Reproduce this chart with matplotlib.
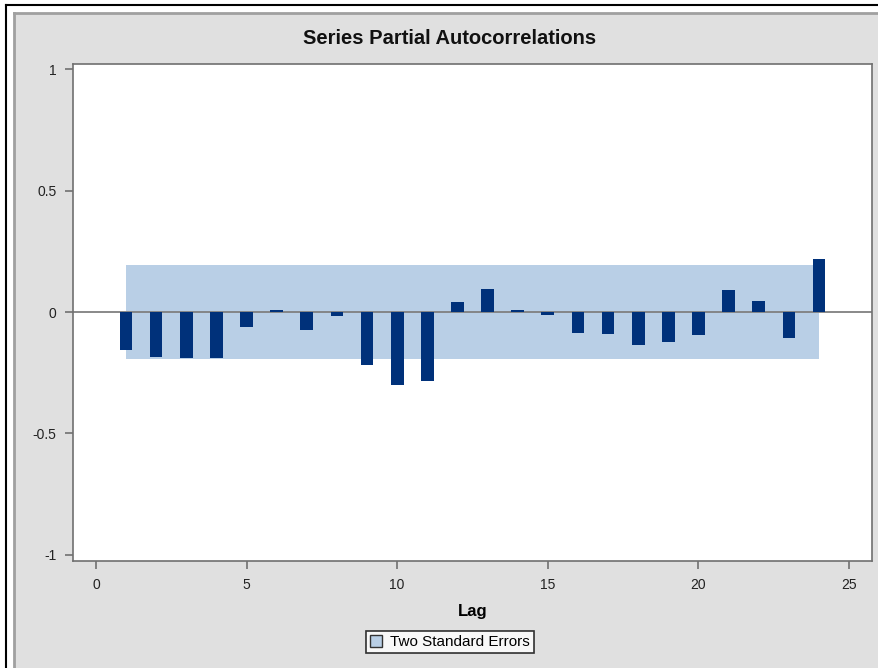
import matplotlib
matplotlib.use("Agg")
import matplotlib.pyplot as plt
from matplotlib.patches import Rectangle, Patch
from matplotlib.lines import Line2D

lags = list(range(1, 25))
pacf = [-0.155, -0.185, -0.19, -0.19, -0.062, 0.008, -0.073, -0.015,
        -0.217, -0.30, -0.283, 0.042, 0.096, 0.01, -0.012, -0.085,
        -0.09, -0.134, -0.125, -0.096, 0.09, 0.046, -0.107, 0.22]
two_se = 0.193
xticks = [0, 5, 10, 15, 20, 25]
yticks = [-1, -0.5, 0, 0.5, 1]
ytick_labels = ["-1", "-0.5", "0", "0.5", "1"]

plt.rcParams['font.family'] = ['Liberation Sans', 'DejaVu Sans']

W, H = 879, 668
fig = plt.figure(figsize=(W / 100, H / 100), dpi=100)
fig.patch.set_facecolor('white')

# outer frame and gray panel
fig.add_artist(Rectangle((14 / W, 0), 1 - 14 / W, 1 - 13 / H, transform=fig.transFigure,
                         facecolor='#e0e0e0', edgecolor='none', zorder=0))
fig.add_artist(Line2D([14 / W, 14 / W], [0, 1 - 13 / H], transform=fig.transFigure,
                      color='#a0a0a0', lw=2, zorder=1))
fig.add_artist(Line2D([14 / W, 1], [1 - 13 / H, 1 - 13 / H], transform=fig.transFigure,
                      color='#a0a0a0', lw=2, zorder=1))
fig.add_artist(Line2D([6 / W, 6 / W], [0, 1 - 5 / H], transform=fig.transFigure,
                      color='black', lw=1.5, zorder=1))
fig.add_artist(Line2D([6 / W, 1], [1 - 5 / H, 1 - 5 / H], transform=fig.transFigure,
                      color='black', lw=1.5, zorder=1))

left, right = 73 / W, 872 / W
bottom, top = 1 - 561 / H, 1 - 63.5 / H
ax = fig.add_axes([left, bottom, right - left, top - bottom])
ax.set_facecolor('white')

band_color = '#b9cfe6'
bar_color = '#00317a'

ax.fill_between([lags[0], lags[-1]], [-two_se, -two_se], [two_se, two_se],
                color=band_color, lw=0, zorder=1)
ax.axhline(0, color='#808080', lw=1.3, zorder=2)
ax.bar(lags, pacf, width=0.42, color=bar_color, zorder=3)

ax.set_xlim(-0.76, 25.76)
ax.set_ylim(-1.025, 1.023)
ax.set_xticks(xticks)
ax.set_xticklabels([str(t) for t in xticks])
ax.set_yticks(yticks)
ax.set_yticklabels(ytick_labels)

for s in ax.spines.values():
    s.set_color('#707070')
    s.set_linewidth(1.2)
ax.tick_params(axis='both', direction='out', length=6, width=1.2, color='#707070',
               labelsize=10, labelcolor='#222222', pad=6)

ax.set_xlabel('Lag', fontsize=12, fontweight='bold', labelpad=9)

fig.text(450 / W, 1 - 39 / H, 'Series Partial Autocorrelations', ha='center', va='center',
         fontsize=14.5, fontweight='bold', color='#111111')

handle = Patch(facecolor=band_color, edgecolor='#333333', linewidth=1)
leg = fig.legend([handle], ['Two Standard Errors'], loc='center',
                 bbox_to_anchor=(450 / W, 1 - 642 / H), frameon=True, fontsize=11,
                 handlelength=0.8, handleheight=0.8, handletextpad=0.5,
                 borderpad=0.25, fancybox=False, edgecolor='black')
leg.get_frame().set_linewidth(1.2)
leg.get_frame().set_facecolor('white')

fig.savefig('out.png', dpi=100, facecolor=fig.get_facecolor())
